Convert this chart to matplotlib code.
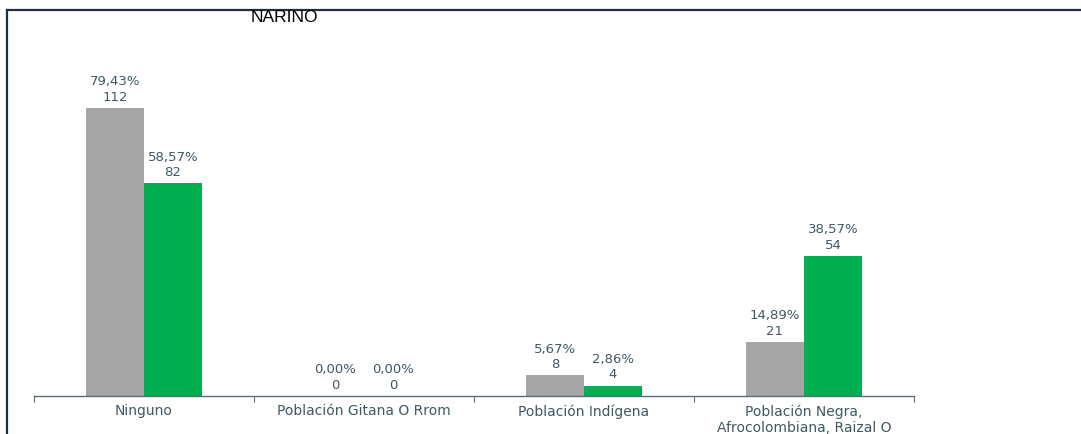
import matplotlib
matplotlib.use("Agg")
import matplotlib.pyplot as plt
from matplotlib.lines import Line2D

categories = ["Ninguno", "Población Gitana O Rrom", "Población Indígena",
              "Población Negra,\nAfrocolombiana, Raizal O"]
gray_pct = [79.43, 0.00, 5.67, 14.89]
gray_cnt = [112, 0, 8, 21]
green_pct = [58.57, 0.00, 2.86, 38.57]
green_cnt = [82, 0, 4, 54]
title = "NARINO"

W, H = 1081, 434
fig = plt.figure(figsize=(W / 100, H / 100), dpi=100)
fig.patch.set_facecolor("white")

ax_left, ax_right = 34, 914
ax_bottom = 396
ax_top = ax_bottom - 363
ax = fig.add_axes([ax_left / W, (H - ax_bottom) / H,
                   (ax_right - ax_left) / W, (ax_bottom - ax_top) / H])
ax.set_xlim(-0.5, len(categories) - 0.5)
ax.set_ylim(0, 100)

bw = 0.264
lab_color = "#3F5964"
font = "DejaVu Sans"
xs = list(range(len(categories)))
ax.bar([x - bw / 2 for x in xs], gray_pct, width=bw, color="#A5A5A5", zorder=2)
ax.bar([x + bw / 2 for x in xs], green_pct, width=bw, color="#00B050", zorder=2)

for x, p, c in zip(xs, gray_pct, gray_cnt):
    ax.annotate(f"{p:.2f}%".replace(".", ",") + f"\n{c}", (x - bw / 2, p),
                xytext=(0, 3), textcoords="offset points", ha="center", va="bottom",
                fontsize=9.5, color=lab_color, family=font, linespacing=1.25)
for x, p, c in zip(xs, green_pct, green_cnt):
    ax.annotate(f"{p:.2f}%".replace(".", ",") + f"\n{c}", (x + bw / 2, p),
                xytext=(0, 3), textcoords="offset points", ha="center", va="bottom",
                fontsize=9.5, color=lab_color, family=font, linespacing=1.25)

for s in ["top", "right", "left"]:
    ax.spines[s].set_visible(False)
ax.spines["bottom"].set_color("#5A6C75")
ax.spines["bottom"].set_linewidth(1.0)
ax.set_yticks([])
ax.set_xticks([x + 0.5 for x in [-1] + xs], minor=False)
ax.tick_params(axis="x", which="major", length=4, color="#5A6C75", labelbottom=False)
ax.set_xticks(xs, minor=True)
ax.set_xticklabels(categories, minor=True)
ax.tick_params(axis="x", which="minor", length=0, pad=6, labelsize=10,
               labelcolor=lab_color)
for t in ax.get_xticklabels(minor=True):
    t.set_family(font)
    t.set_linespacing(1.2)

fig.text(284 / W, (H - 17) / H, title, ha="center", va="center",
         fontsize=12.5, color="black", family="Liberation Sans")

frame_c = "#1F2F40"
fig.add_artist(Line2D([7.5 / W, 7.5 / W], [0, (H - 10) / H], color=frame_c, lw=1.6,
                      transform=fig.transFigure))
fig.add_artist(Line2D([7.5 / W, 1], [(H - 10) / H, (H - 10) / H], color=frame_c, lw=1.6,
                      transform=fig.transFigure))

fig.savefig("out.png", dpi=100)
